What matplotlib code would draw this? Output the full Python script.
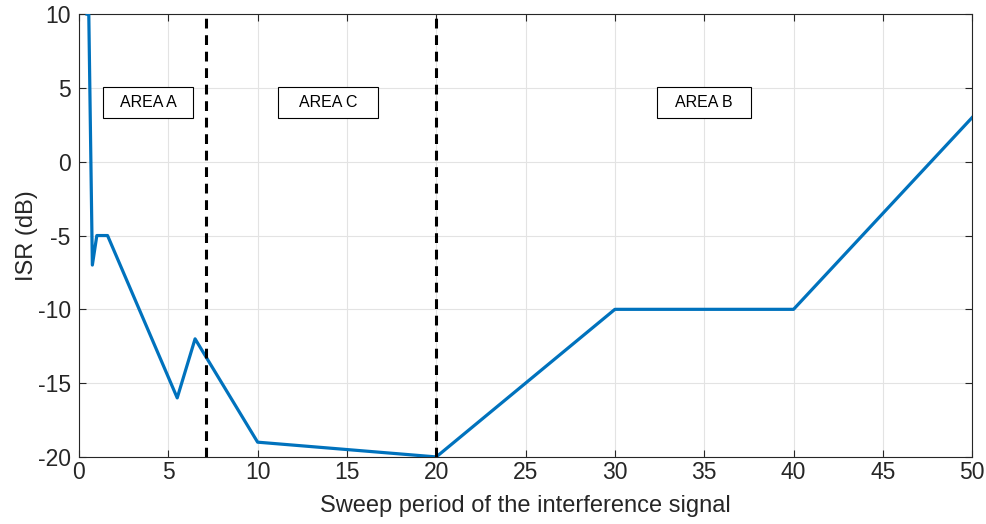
import matplotlib.pyplot as plt
from matplotlib.patches import Rectangle

plt.rcParams['font.family'] = ['Liberation Sans', 'DejaVu Sans']
plt.rcParams['axes.unicode_minus'] = False

# ISR curve vs sweep period
sweep = [0.45, 0.55, 0.75, 1.0, 1.6, 5.5, 6.5, 10, 20, 30, 40, 50]
isr = [10, 10, -7, -5, -5, -16, -12, -19, -20, -10, -10, 3]

# area boundaries and labelled boxes (x0, x1)
bounds = [7.1, 20]
areas = ["AREA A", "AREA C", "AREA B"]
area_x0 = [1.36, 11.14, 32.36]
area_x1 = [6.36, 16.74, 37.63]
area_y0, area_y1 = 2.95, 5.05

fig = plt.figure(figsize=(9.87, 5.24), dpi=100)
ax = fig.add_axes([0.080, 0.128, 0.905, 0.845])

ax.plot(sweep, isr, color='#0072BD', lw=2.3, zorder=3)
for b in bounds:
    ax.axvline(b, color='black', ls=(0, (3.2, 2.2)), lw=2.2, zorder=4)

for name, x0, x1 in zip(areas, area_x0, area_x1):
    ax.add_patch(Rectangle((x0, area_y0), x1 - x0, area_y1 - area_y0,
                           fc='white', ec='black', lw=0.8, zorder=5))
    ax.text((x0 + x1) / 2, (area_y0 + area_y1) / 2, name, ha='center',
            va='center', fontsize=11.5, zorder=6)

ax.set_xlim(0, 50)
ax.set_ylim(-20, 10)
ax.set_xticks(range(0, 51, 5))
ax.set_yticks(range(-20, 11, 5))
ax.grid(True, color='#e3e3e3', lw=0.8)
ax.set_axisbelow(True)
ax.tick_params(direction='in', length=5, colors='#262626', labelsize=16.5,
               width=0.8, top=True, right=True)
ax.tick_params(axis='x', pad=3)
ax.tick_params(axis='y', pad=6)
for s in ax.spines.values():
    s.set_color('#262626')
    s.set_linewidth(0.8)

ax.set_xlabel('Sweep period of the interference signal', fontsize=17,
              color='#262626', labelpad=8)
ax.set_ylabel('ISR (dB)', fontsize=17, color='#262626', labelpad=0)

fig.savefig('out.png', dpi=100)
